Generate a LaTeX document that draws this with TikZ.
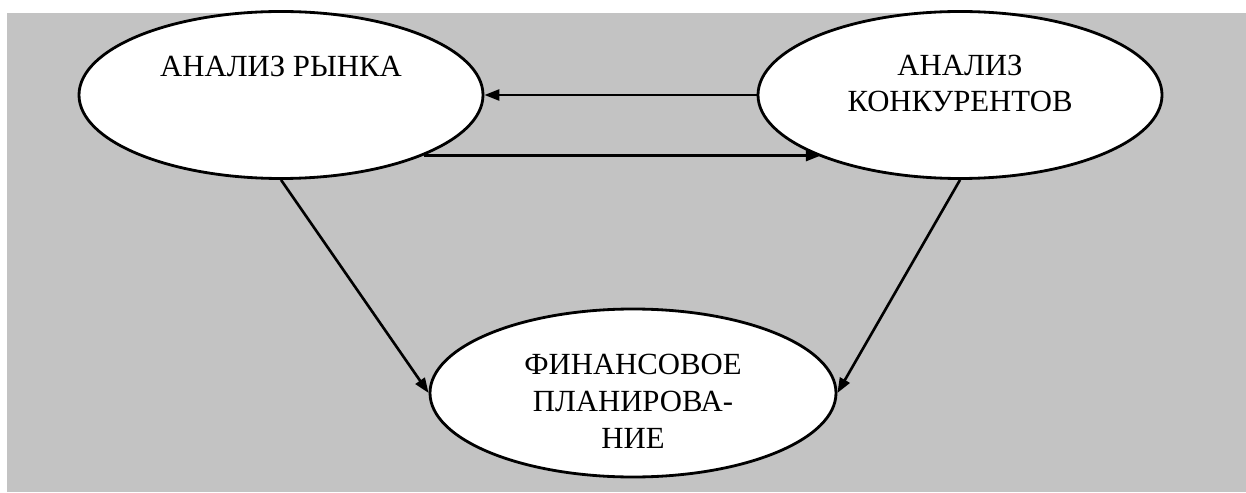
\documentclass[tikz,border=0pt]{standalone}
\usepackage{fontspec}
\setmainfont{Liberation Serif}
\usepackage{xcolor}
\usepackage{tikz}
\usetikzlibrary{positioning, arrows.meta, shapes.geometric}

\definecolor{panelgray}{RGB}{195,195,195}

\begin{document}
\begin{tikzpicture}[
    oval/.style={ellipse, draw, fill=white, line width=1.6pt, inner sep=0pt, minimum width=8.08cm, minimum height=3.34cm},
    lbl/.style={inner sep=0pt, align=center, font=\rmfamily\fontsize{17.5}{21}\selectfont},
    link/.style={-{Triangle[length=0.3cm, width=0.22cm]}, line width=1.5pt}
]

\useasboundingbox (0, 0) rectangle (24.92, 9.84);
\fill[white] (0, 0) rectangle (24.92, 9.84);
\fill[panelgray] (0.14, 0) rectangle (24.92, 9.58);

\node[oval, label={[lbl, yshift=0.58cm]center:АНАЛИЗ РЫНКА}] (market) at (5.62, 7.94) {};
\node[oval, label={[lbl, yshift=0.23cm]center:АНАЛИЗ\\КОНКУРЕНТОВ}] (rivals) at (19.2, 7.94) {};
\node[oval, minimum width=8.12cm, minimum height=3.36cm,
      label={[lbl, yshift=-0.17cm]center:ФИНАНСОВОЕ\\ПЛАНИРОВА-\\НИЕ}] (finance) at (12.66, 1.98) {};

\draw[link] (rivals.west) -- (market.east);
\draw[link] (market.-23.3) -- (rivals.-156.7 |- market.-23.3);
\draw[link] (market.south) -- (finance.west);
\draw[link] (rivals.south) -- (finance.east);

\end{tikzpicture}
\end{document}
